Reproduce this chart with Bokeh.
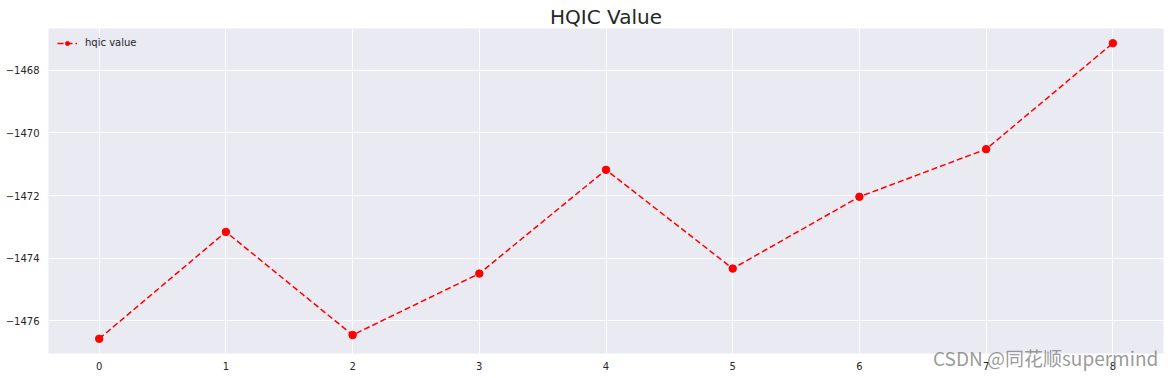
from bokeh.plotting import figure
from bokeh.models import FixedTicker, Legend, LegendItem, Range1d, Div
from bokeh.layouts import column
from bokeh.embed import file_html
from bokeh.resources import INLINE

x_vals = [0, 1, 2, 3, 4, 5, 6, 7, 8]
hqic = [-1476.57, -1473.16, -1476.45, -1474.49, -1471.18, -1474.33, -1472.04, -1470.52, -1467.14]
y_ticks = [-1476, -1474, -1472, -1470, -1468]
x_ticks = [0, 1, 2, 3, 4, 5, 6, 7, 8]
title_text = "HQIC Value"
series_name = "hqic value"
watermark = "CSDN @同花顺supermind"

FONT = "DejaVu Sans"

p = figure(width=1171, height=378, output_backend="svg", toolbar_location=None,
           x_range=Range1d(-0.4, 8.4), y_range=Range1d(-1477.04, -1466.67),
           min_border_left=48, min_border_right=8, min_border_top=28, min_border_bottom=25)

p.title.text = title_text
p.title.align = "center"
p.title.text_font = FONT
p.title.text_font_size = "20px"
p.title.text_font_style = "normal"
p.title.text_color = "#262626"
p.title.standoff = 0

p.background_fill_color = "#EAEAF2"
p.border_fill_color = "white"
p.outline_line_color = None

for g in (p.xgrid, p.ygrid):
    g.grid_line_color = "white"
    g.grid_line_width = 1

p.xaxis.ticker = FixedTicker(ticks=x_ticks)
p.yaxis.ticker = FixedTicker(ticks=y_ticks)
p.yaxis.major_label_overrides = {t: "\u2212" + str(abs(t)) for t in y_ticks}
for ax in (p.xaxis, p.yaxis):
    ax.axis_line_color = None
    ax.major_tick_line_color = None
    ax.minor_tick_line_color = None
    ax.major_tick_out = 0
    ax.major_tick_in = 0
    ax.minor_tick_out = 0
    ax.major_label_text_font = FONT
    ax.major_label_text_font_size = "10px"
    ax.major_label_text_color = "#262626"
p.xaxis.major_label_standoff = 8
p.yaxis.major_label_standoff = 9

ln = p.line(x_vals, hqic, line_color="#ff0000", line_width=1.5, line_dash="6 3")
sc = p.scatter(x_vals, hqic, marker="circle", size=7.5, fill_color="#ff0000", line_color="#ff0000")

legend = Legend(items=[LegendItem(label=series_name, renderers=[ln, sc])],
                location="top_left", margin=2, padding=7,
                glyph_width=20, glyph_height=10, label_height=10, label_standoff=8,
                background_fill_alpha=0, border_line_alpha=0,
                label_text_font=FONT, label_text_font_size="10px", label_text_color="#262626")
p.add_layout(legend)

wm = Div(text=watermark, margin=(-31, 0, 0, 933),
         styles={"color": "rgba(128,128,128,0.8)", "font-family": "Noto Sans CJK SC",
                 "font-size": "19px", "white-space": "nowrap", "line-height": "22px"})

layout = column(p, wm, spacing=0)
open("out.html", "w").write(file_html(layout, INLINE))
